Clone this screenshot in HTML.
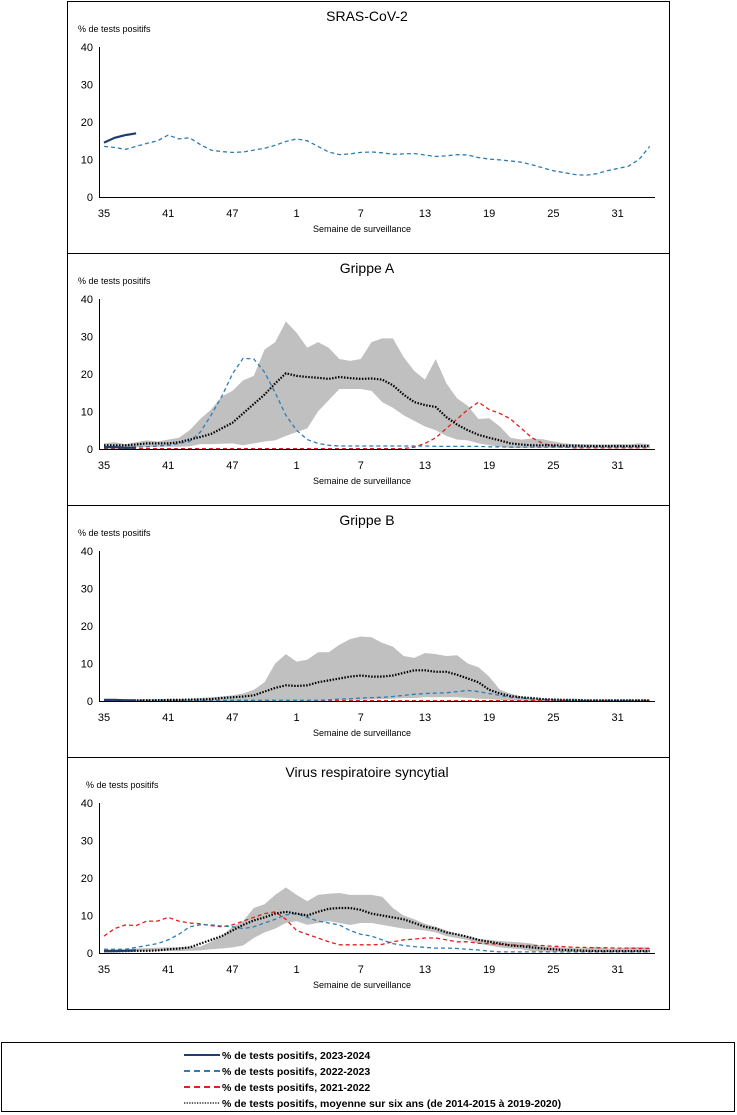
<!DOCTYPE html>
<html><head><meta charset="utf-8">
<style>
html,body{margin:0;padding:0;background:#fff;width:737px;height:1115px;overflow:hidden}
svg{display:block;font-family:"Liberation Sans",sans-serif}
</style></head>
<body>
<svg id="chart" width="737" height="1115" viewBox="0 0 737 1115"></svg>
<script>
const weeks=[35,36,37,38,39,40,41,42,43,44,45,46,47,48,49,50,51,52,1,2,3,4,5,6,7,8,9,10,11,12,13,14,15,16,17,18,19,20,21,22,23,24,25,26,27,28,29,30,31,32,33,34];
const tickWeeks=[35,41,47,1,7,13,19,25,31];
const yTicks=[0,10,20,30,40];
const panelTitles=["SRAS-CoV-2","Grippe A","Grippe B","Virus respiratoire syncytial"];

// SRAS-CoV-2
const cov2324=[14.5,15.8,16.5,17];
const cov2223=[13.5,13.2,12.7,13.5,14.3,15,16.5,15.5,15.8,14,12.5,12.1,11.9,12,12.5,13,13.8,14.8,15.5,15,13.5,12,11.3,11.5,11.9,12,11.8,11.4,11.5,11.6,11.2,10.8,11,11.3,11.2,10.5,10.1,9.9,9.6,9.3,8.6,7.8,7,6.5,6,5.8,6.2,7,7.6,8.2,10,13.5];

// Grippe A
const fluA2324=[0.5,0.5,0.3,0.4];
const fluA2223=[0.3,0.3,0.4,0.5,0.6,0.8,1,1.5,2,4.5,9,14,20,24.2,24,20.5,15,9,5,2.5,1.5,1,0.8,0.8,0.8,0.8,0.8,0.8,0.8,0.8,0.8,0.7,0.7,0.7,0.7,0.7,0.6,0.6,0.5,0.5,0.5,0.5,0.5,0.5,0.5,0.5,0.5,0.5,0.5,0.5,0.5,0.5];
const fluA2122=[0.1,0.1,0.1,0.1,0.1,0.1,0.1,0.1,0.1,0.1,0.1,0.1,0.1,0.1,0.1,0.1,0.1,0.1,0.1,0.1,0.1,0.1,0.1,0.1,0.1,0.1,0.1,0.1,0.1,0.5,1.5,3,5.5,8,10.5,12.5,10.5,9.5,8,5.5,3,1.5,0.8,0.5,0.3,0.3,0.3,0.3,0.3,0.3,0.3,0.3];
const fluAMean=[1,1,1,1.2,1.5,1.5,1.5,1.8,2.5,3.2,4,5.5,7,9.5,12,14.5,17.5,20.2,19.5,19.2,19,18.7,19.2,18.9,18.7,18.8,18.5,17,14.5,12.5,11.7,11.2,8.5,6.5,5,3.8,3,2.3,1.5,1.2,1,1,1,0.9,0.9,0.8,0.8,0.8,0.8,0.8,0.8,0.8];
const fluAMax=[1.5,1.8,1.3,1.8,2.3,2,2.5,3,5,8,10.5,14,15.5,18.3,19.5,26.5,28.5,34,31,27,28.5,27,24,23.5,24,28.5,29.5,29.5,24.5,20.8,18.5,24,17.5,13.5,11.5,8,8.2,6,3,2.5,2.8,2.6,2,1.5,1.3,1.3,1.2,1.2,1.3,1.2,1.5,1.3];
const fluAMin=[0.5,0.6,0.5,0.5,0.5,0.6,0.6,0.6,0.7,1.3,1.3,1.4,1.5,1,1.5,2,2.3,3.5,4.5,5.5,10,13,16,16,16,15.5,12.5,11,9,7.5,6,5,3.5,2.5,2.3,1.5,1,0.6,0.3,0.3,0.3,0.3,0.3,0.3,0.3,0.3,0.3,0.3,0.3,0.3,0.3,0.3];

// Grippe B
const fluB2324=[0.3,0.3,0.2,0.2];
const fluB2223=[0.2,0.2,0.2,0.2,0.2,0.2,0.2,0.2,0.2,0.2,0.2,0.2,0.2,0.2,0.2,0.2,0.2,0.2,0.2,0.2,0.2,0.3,0.5,0.6,0.8,0.9,1,1.2,1.5,1.8,2,2.1,2.2,2.5,2.8,2.5,2,1.5,1,0.8,0.5,0.4,0.3,0.2,0.2,0.2,0.2,0.2,0.2,0.2,0.2,0.2];
const fluB2122=[0.3,0.3,0.3,0.1,0.1,0.1,0.1,0.1,0.1,0.1,0.1,0.1,0.1,0.1,0.1,0.1,0.1,0.1,0.1,0.1,0.1,0.1,0.1,0.1,0.1,0.1,0.1,0.1,0.1,0.1,0.1,0.1,0.1,0.1,0.1,0.1,0.1,0.1,0.1,0.1,0.1,0.1,0.1,0.1,0.1,0.1,0.1,0.1,0.1,0.1,0.1,0.1];
const fluBMean=[0.1,0.1,0.1,0.1,0.2,0.2,0.3,0.3,0.4,0.4,0.5,0.8,1,1.2,1.5,2.5,3.5,4.2,4,4.2,5,5.5,6,6.5,6.8,6.5,6.5,6.8,7.5,8.2,8.2,7.8,7.8,7,6,5,3,2,1.3,1,0.8,0.5,0.4,0.3,0.3,0.2,0.2,0.2,0.2,0.2,0.2,0.2];
const fluBMax=[0.5,0.5,0.5,0.5,0.5,0.5,0.5,0.5,0.5,0.8,1,1.2,1.5,2,3,5,10,12.5,10.5,11,13,13,15,16.5,17.2,17,15.5,14.5,12,11.5,12.8,12.5,12,12.2,10,9,6.5,3,2,1.2,0.8,0.6,0.5,0.4,0.4,0.3,0.3,0.3,0.3,0.3,0.3,0.3];
const fluBMin=[0,0,0,0,0,0,0,0,0,0,0,0,0,0,0,0,0,0,0,0,0,0.1,0.2,0.3,0.3,0.4,0.5,0.6,0.8,0.8,1,1,1,1,0.8,0.6,0.5,0.3,0.2,0.1,0,0,0,0,0,0,0,0,0,0,0,0];

// VRS
const rsv2324=[0.5,0.5,0.6,0.7];
const rsv2223=[1,1,1,1.5,2,2.5,3.5,5,7,7.5,7.5,7.2,7,6.5,7,8,9,10.2,10.5,9.5,8.5,8,7.5,6,5,4.5,3.5,2.5,2,1.7,1.5,1.3,1.3,1.2,1,0.8,0.5,0.3,0.3,0.3,0.3,0.3,0.3,0.3,0.3,0.3,0.3,0.3,0.3,0.3,0.3,0.3];
const rsv2122=[4.5,6.5,7.5,7.3,8.5,8.5,9.5,8.5,8,7.8,7.3,7,7.5,8.5,9.5,10.5,11,9,6,5,4,3,2.2,2.2,2.2,2.2,2.3,3,3.5,3.7,4,4,3.5,3,3,2.6,2.5,2.3,2.2,2,2,2,1.8,1.7,1.5,1.5,1.4,1.4,1.3,1.3,1.2,1.2];
const rsvMean=[0.5,0.5,0.5,0.6,0.6,0.7,1,1.2,1.5,2.5,3.5,4.5,6,7.5,8.7,9.5,10.5,11,10.5,10,11,11.8,12,12,11.5,10.5,10,9.5,9,8,7,6.5,5.5,5,4.3,3.5,3,2.5,2,1.8,1.5,1.2,1,0.8,0.7,0.6,0.5,0.5,0.5,0.5,0.5,0.5];
const rsvMax=[1,1,1,1.2,1.3,1.4,1.5,1.5,1.7,1.7,3,4.5,7,8.5,12,13,15.5,17.5,15.5,13.8,15.5,15.8,16,15.5,15.5,15.5,15,12,10,9,7.8,7,6,5,4.5,3.8,3.5,3.2,3,2.8,2.5,1.8,1.6,1.5,1.3,1.3,1.7,1.2,1.3,1.5,1.6,1.5];
const rsvMin=[0.3,0.3,0.3,0.4,0.4,0.5,0.5,0.5,0.6,0.7,1,1.2,1.5,2,4,5.5,6.5,8,8.5,7.5,8,8.5,8,7.5,8,8,7.5,7,6.5,6.3,6,5.5,4.5,4,3.5,2.5,2,1.5,1.2,1,0.5,0.4,0.3,0.3,0.3,0.3,0.3,0.3,0.3,0.3,0.3,0.3];

const panels=[
 {cur:cov2324,prev:cov2223,old:null,mean:null,max:null,min:null},
 {cur:fluA2324,prev:fluA2223,old:fluA2122,mean:fluAMean,max:fluAMax,min:fluAMin},
 {cur:fluB2324,prev:fluB2223,old:fluB2122,mean:fluBMean,max:fluBMax,min:fluBMin},
 {cur:rsv2324,prev:rsv2223,old:rsv2122,mean:rsvMean,max:rsvMax,min:rsvMin}
];

const NS="http://www.w3.org/2000/svg";
const svg=document.getElementById('chart');
function mk(tag,attrs,parent){const e=document.createElementNS(NS,tag);for(const k in attrs)e.setAttribute(k,attrs[k]);(parent||svg).appendChild(e);return e;}
const X0=104,DX=10.7;
function xScale(i){return X0+DX*i;}
function idxOfWeek(w){return weeks.indexOf(w);}

panels.forEach((p,pi)=>{
  const top=1+pi*252;
  const y0=top+196, yTop=top+46;
  const yScale=v=>y0-(v/40)*(y0-yTop);
  const g=mk('g',{});
  
  
  const box=mk('rect',{x:67.5,y:top+0.5,width:602,height:252,fill:'#fff',stroke:'#000','stroke-width':1},g);
  
  
  const t=mk('text',{x:367,y:top+20,'text-anchor':'middle','font-size':14},g);t.textContent=panelTitles[pi];
  
  
  const yl=mk('text',{x:pi==3?86:78,y:top+31,'font-size':9},g);yl.textContent='% de tests positifs';
  
  
  yTicks.forEach(v=>{const tt=mk('text',{x:93,y:yScale(v)+4,'text-anchor':'end','font-size':11},g);tt.textContent=v;
    
    });
  tickWeeks.forEach(w=>{const tt=mk('text',{x:xScale(idxOfWeek(w)),y:y0+20,'text-anchor':'middle','font-size':11},g);tt.textContent=w;
    
    });
  const xt=mk('text',{x:362,y:y0+35,'text-anchor':'middle','font-size':9},g);xt.textContent='Semaine de surveillance';
  
  
  if(p.max){
    let d='M'+p.max.map((v,i)=>xScale(i).toFixed(1)+','+yScale(v).toFixed(1)).join('L');
    for(let i=p.min.length-1;i>=0;i--)d+='L'+xScale(i).toFixed(1)+','+yScale(p.min[i]).toFixed(1);
    const band=mk('path',{d:d+'Z',fill:'#c0c0c0',stroke:'none'},g);
    
    
  }
  const line=(arr,style,name)=>{if(!arr)return;const pts=arr.map((v,i)=>xScale(i).toFixed(1)+','+yScale(v).toFixed(1)).join(' ');
    const e=mk('polyline',Object.assign({points:pts,fill:'none'},style),g);
    
    };
  line(p.old,{stroke:'#e0201e','stroke-width':1.3,'stroke-dasharray':'4,3'},'series-2021-2022');
  line(p.prev,{stroke:'#2e7db5','stroke-width':1.3,'stroke-dasharray':'4,3'},'series-2022-2023');
  line(p.mean,{stroke:'#000','stroke-width':2.2,'stroke-dasharray':'1.5,1.5'},'series-six-year-mean');
  line(p.cur,{stroke:'#1f3e6e','stroke-width':2.2},'series-2023-2024');
  const ax=mk('path',{d:`M99.5,${yTop}V${y0+0.5}H655`,stroke:'#000','stroke-width':1,fill:'none'},g);
  
  
});

// legend
const lg=mk('g',{});


mk('rect',{x:1.5,y:1042.5,width:733,height:69,fill:'#fff',stroke:'#000','stroke-width':1},lg);
const legItems=[
 ['% de tests positifs, 2023-2024',{stroke:'#1f3e6e','stroke-width':2}],
 ['% de tests positifs, 2022-2023',{stroke:'#2e7db5','stroke-width':2,'stroke-dasharray':'6,4'}],
 ['% de tests positifs, 2021-2022',{stroke:'#e0201e','stroke-width':2,'stroke-dasharray':'6,4'}],
 ['% de tests positifs, moyenne sur six ans (de 2014-2015 à 2019-2020)',{stroke:'#000','stroke-width':1.3,'stroke-dasharray':'1.3,1.3'}]
];
const legY=[1055,1071,1087,1103];
legItems.forEach((it,k)=>{
  const e=mk('g',{},lg);
  
  
  mk('line',Object.assign({x1:184,x2:220,y1:legY[k],y2:legY[k]},it[1]),e);
  const t=mk('text',{x:222,y:legY[k]+4,'font-size':10.5,'font-weight':'bold'},e);t.textContent=it[0];
});
</script>
</body></html>
